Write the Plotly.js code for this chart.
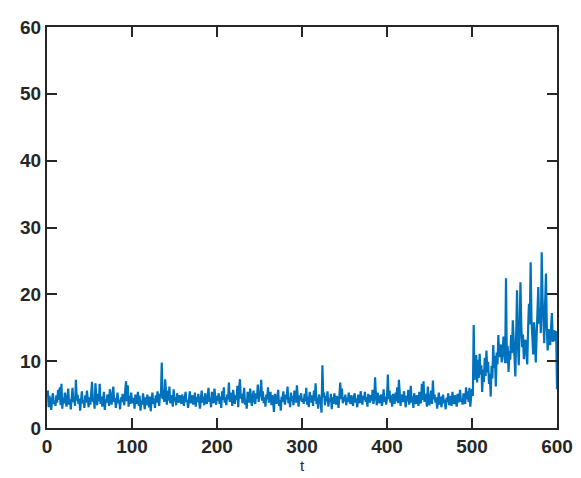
<!DOCTYPE html>
<html>
<head>
<meta charset="utf-8">
<script src="https://cdn.plot.ly/plotly-3.0.1.min.js"></script>
<style>html,body{margin:0;padding:0;background:#fff;}#chart{width:581px;height:478px;}</style>
</head>
<body>
<div id="chart"></div>
<script>
// t = 1..100
var seg1 = [5.6,3.1,4.8,3.9,2.7,4.4,5.2,3.6,4.1,3.3,
4.9,3.8,5.7,4.2,6.1,3.4,6.6,2.9,4.5,3.7,
5.3,4.0,3.2,4.8,5.9,3.5,4.3,2.8,5.1,6.0,
3.9,4.6,3.3,7.2,4.1,5.0,3.6,4.4,2.6,4.8,
5.5,3.7,4.2,3.0,4.9,3.8,5.6,4.3,3.1,4.6,
3.5,5.2,6.9,3.9,4.4,2.9,6.7,4.8,3.4,5.1,
4.0,6.6,3.6,4.7,3.2,4.1,5.4,2.7,4.3,3.8,
5.0,4.4,3.3,5.8,4.1,3.5,4.9,6.2,3.9,4.5,
3.0,4.7,5.3,3.7,4.2,2.8,4.6,3.9,5.1,4.3,
3.4,5.6,7.0,4.0,6.4,3.2,4.8,3.6,5.3,4.1];
// t = 101..200
var seg2 = [3.7,4.5,2.9,5.0,3.6,4.2,5.4,3.3,4.8,2.6,
4.1,3.5,5.2,3.9,2.8,4.6,3.4,5.0,4.2,3.1,
4.7,2.5,4.0,5.3,3.6,4.4,3.0,4.9,3.8,5.5,
4.2,3.3,5.1,4.6,9.8,4.3,5.7,3.9,7.3,4.8,
3.5,5.6,4.1,6.2,3.7,4.9,4.4,3.2,5.8,4.0,
4.6,3.4,5.2,4.1,3.8,4.9,4.3,3.6,5.0,4.5,
3.3,4.7,5.4,3.9,4.2,3.0,4.8,5.5,3.7,4.3,
4.9,3.5,4.1,5.3,3.2,4.6,3.9,5.1,4.0,2.9,
4.4,5.6,3.8,4.7,3.4,5.2,4.1,3.6,4.8,6.0,
3.9,4.5,3.1,5.4,4.2,3.7,5.9,4.3,3.5,4.8];
// t = 201..300
var seg3 = [4.1,5.2,3.6,4.7,3.0,5.5,4.2,6.1,3.8,4.6,
3.4,5.0,4.3,6.8,3.9,5.3,4.0,3.3,5.7,4.5,
3.6,4.9,4.2,6.3,3.1,5.8,7.3,4.4,5.1,3.7,
4.8,6.0,3.5,4.2,2.9,5.4,4.6,3.8,5.9,4.1,
3.3,4.7,5.6,4.0,3.6,5.2,4.4,6.5,3.9,4.8,
5.3,7.2,4.1,5.5,3.7,4.6,3.2,5.0,4.3,6.1,
3.8,4.5,5.4,3.4,4.9,4.0,2.4,5.1,4.4,3.6,
4.8,5.7,3.3,4.2,2.6,4.7,3.9,5.5,4.1,3.5,
5.0,4.3,6.2,3.7,4.6,3.1,5.3,4.0,4.8,3.4,
5.6,4.2,3.8,6.4,4.5,3.2,4.9,4.1,5.2,3.9];
// t = 301..400
var seg4 = [4.4,3.6,5.1,4.0,6.0,3.5,4.7,3.1,5.4,4.2,
3.8,4.9,3.3,5.6,4.1,6.7,3.6,4.5,2.9,5.0,
4.3,3.7,2.3,9.4,4.6,5.3,3.4,4.8,4.0,5.5,
3.2,4.4,3.9,5.1,2.8,4.6,3.6,5.2,4.1,3.5,
4.8,4.2,3.0,5.6,6.8,4.3,5.9,3.7,4.6,4.0,
5.0,3.4,4.5,3.9,5.3,4.2,3.6,4.9,4.1,3.3,
4.7,5.2,3.8,4.4,3.1,5.0,4.3,3.7,5.5,4.0,
3.5,4.8,4.2,5.4,3.9,4.6,3.2,5.1,4.4,3.8,
4.9,4.1,5.7,3.6,4.5,7.6,4.8,3.4,5.3,4.2,
3.7,4.6,5.0,3.3,4.1,5.8,3.9,4.7,3.5,4.4];
// t = 401..500
var seg5 = [8.0,4.3,5.6,3.8,4.9,3.2,5.1,4.4,3.6,5.3,
4.0,6.1,3.7,7.2,4.5,3.3,5.0,4.2,3.9,5.5,
4.6,3.1,4.8,4.0,5.7,3.5,4.3,6.3,3.8,4.7,
3.0,5.2,4.1,3.6,4.9,4.4,3.3,5.4,4.0,3.7,
6.6,4.2,7.0,3.9,5.1,4.5,3.2,6.2,4.0,3.4,
4.8,5.6,3.6,7.1,4.3,5.0,3.8,4.6,2.9,4.2,
5.3,3.5,4.7,3.1,4.4,5.0,3.7,4.2,2.8,4.5,
3.9,5.2,3.4,4.1,4.8,3.3,5.4,4.0,3.6,4.9,
4.3,3.2,5.1,3.8,4.6,5.7,3.9,4.4,3.5,5.2,
4.0,3.6,6.1,4.3,5.5,3.9,6.0,3.2,4.7,5.8];
// t = 501..600
var seg6 = [4.8,15.4,7.2,9.6,10.9,6.8,10.2,7.5,11.1,8.0,
9.4,5.4,8.7,6.9,10.5,7.8,11.6,8.3,9.9,6.6,
8.1,4.7,9.3,7.4,12.4,9.0,10.8,6.2,11.3,9.5,
13.9,10.6,11.8,12.5,9.8,11.0,13.7,10.4,9.7,22.4,
9.7,12.3,8.4,11.5,10.2,13.9,11.2,16.1,12.0,10.6,
7.7,13.4,20.6,12.8,9.4,14.7,21.8,15.3,12.1,14.0,
10.3,12.6,13.2,11.0,9.5,14.8,18.6,15.5,24.8,16.2,
13.0,11.0,15.8,13.9,9.8,14.3,17.5,21.1,15.6,18.0,
14.2,26.3,19.4,16.0,12.7,18.5,23.1,15.2,11.6,14.8,
13.9,12.4,15.0,17.2,12.9,13.5,14.6,13.0,14.5,5.8];

var yVals = seg1.concat(seg2, seg3, seg4, seg5, seg6);
var tVals = [];
for (var i = 0; i < yVals.length; i++) tVals.push(i + 1);

var xTicks = [0, 100, 200, 300, 400, 500, 600];
var yTicks = [0, 10, 20, 30, 40, 50, 60];

var axisColor = '#262626';
var fontFam = '"Liberation Sans", Arial, Helvetica, sans-serif';

var trace = {
  x: tVals, y: yVals, type: 'scatter', mode: 'lines',
  line: {color: '#0072BD', width: 2.2},
  hoverinfo: 'skip'
};

var layout = {
  width: 581, height: 478,
  margin: {l: 47, r: 24, t: 27, b: 50},
  paper_bgcolor: '#fff', plot_bgcolor: '#fff',
  showlegend: false,
  xaxis: {
    range: [0, 600], tickvals: xTicks, ticktext: xTicks.map(String),
    showline: true, linewidth: 2, linecolor: axisColor, mirror: 'ticks',
    ticks: 'inside', ticklen: 10, tickwidth: 2, tickcolor: axisColor,
    showgrid: false, zeroline: false,
    tickfont: {family: fontFam, size: 19, color: axisColor, weight: 'bold'},
    title: {text: 't', font: {family: fontFam, size: 15, color: axisColor}, standoff: 3}
  },
  yaxis: {
    range: [0, 60], tickvals: yTicks, ticktext: yTicks.map(String),
    showline: true, linewidth: 2, linecolor: axisColor, mirror: 'ticks',
    ticks: 'inside', ticklen: 10, tickwidth: 2, tickcolor: axisColor,
    showgrid: false, zeroline: false,
    tickfont: {family: fontFam, size: 19, color: axisColor, weight: 'bold'}
  }
};

Plotly.newPlot('chart', [trace], layout, {displayModeBar: false, staticPlot: true});
</script>
</body>
</html>
